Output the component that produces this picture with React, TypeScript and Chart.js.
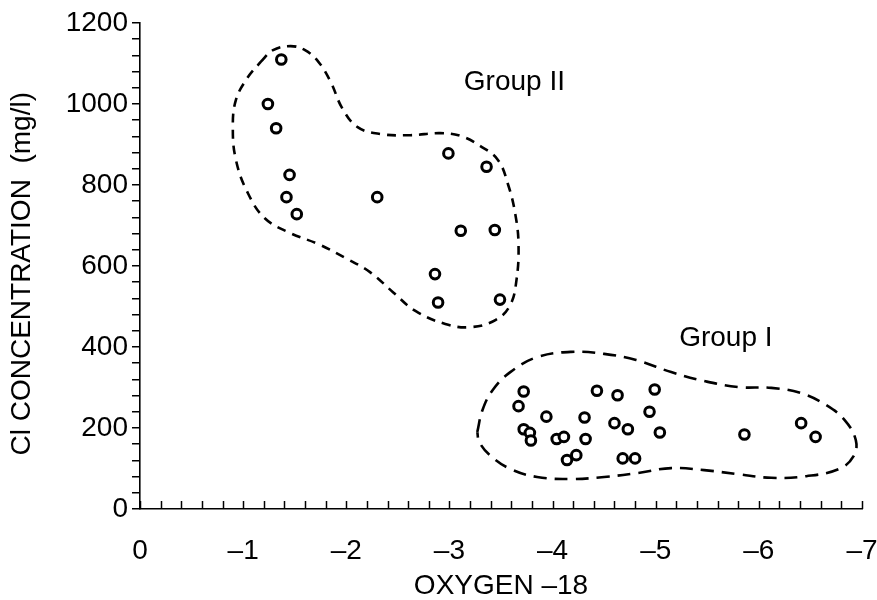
import React, { useEffect, useRef } from "react";
import { Chart, registerables } from "chart.js";

Chart.register(...registerables);

// Group I samples (OXYGEN-18, Cl mg/l)
const group1X = [-3.72, -3.67, -3.94, -3.72, -3.78, -3.79, -4.04, -4.11, -4.14, -4.23, -4.31, -4.32, -4.43, -4.63, -4.60, -4.73, -4.68, -4.80, -4.99, -4.94, -5.04, -5.86, -6.41, -6.55];
const group1Y = [290, 254, 228, 197, 188, 169, 173, 178, 121, 133, 226, 173, 292, 281, 212, 197, 125, 125, 295, 240, 189, 184, 212, 178];

// Group II samples
const group2X = [-1.37, -1.24, -1.32, -1.45, -1.42, -1.52, -2.30, -2.99, -3.36, -3.11, -3.44, -2.86, -2.89, -3.49];
const group2Y = [1110, 1000, 940, 825, 770, 728, 770, 878, 845, 687, 689, 580, 510, 517];

// Dashed envelope around Group II
const env2X = [-1.17, -1.29, -1.46, -1.60, -1.73, -1.85, -1.96, -2.11, -2.33, -2.62, -2.91, -3.11, -3.30, -3.47, -3.57, -3.64, -3.67, -3.65, -3.59, -3.45, -3.20, -2.96, -2.67, -2.45, -2.23, -1.99, -1.73, -1.46, -1.21, -1.04, -0.93, -0.90, -0.93, -1.04, -1.17];
const env2Y = [1104, 1133, 1143, 1133, 1104, 1054, 990, 943, 926, 923, 928, 921, 896, 862, 800, 726, 652, 565, 504, 467, 449, 457, 489, 536, 585, 620, 654, 681, 718, 783, 862, 941, 1010, 1064, 1104];

// Dashed envelope around Group I
const env1X = [-3.27, -3.32, -3.42, -3.59, -3.85, -4.18, -4.50, -4.81, -5.15, -5.47, -5.80, -6.12, -6.41, -6.65, -6.83, -6.94, -6.92, -6.78, -6.46, -6.12, -5.80, -5.47, -5.15, -4.83, -4.50, -4.18, -3.85, -3.59, -3.40, -3.29, -3.27];
const env1Y = [190, 244, 294, 338, 375, 388, 383, 368, 338, 316, 301, 299, 286, 257, 220, 170, 131, 99, 81, 77, 86, 96, 101, 89, 79, 74, 79, 99, 131, 165, 190];

// Group captions
const captionText = ["Group II", "Group I"];
const captionX = [-3.63, -5.68];
const captionY = [1054, 422];

const FONT = '"Liberation Sans", Arial, Helvetica, sans-serif';
const FS = 28;

const toXY = (xs: number[], ys: number[]) => xs.map((x, i) => ({ x, y: ys[i] }));

const overlayPlugin = {
  id: "overlay",
  afterDraw(chart: any) {
    const { ctx, scales } = chart;
    const xs = scales.x;
    const ys = scales.y;
    ctx.save();
    ctx.strokeStyle = "#000";
    ctx.lineWidth = 1.5;
    xs.ticks.forEach((t: any) => {
      const px = Math.round(xs.getPixelForValue(t.value)) + 0.5;
      ctx.beginPath();
      ctx.moveTo(px, ys.bottom);
      ctx.lineTo(px, ys.bottom - 8);
      ctx.stroke();
    });
    ctx.fillStyle = "#000";
    ctx.font = `${FS}px ${FONT}`;
    ctx.textAlign = "center";
    ctx.textBaseline = "middle";
    captionText.forEach((txt, i) => {
      ctx.fillText(txt, xs.getPixelForValue(captionX[i]), ys.getPixelForValue(captionY[i]));
    });
    ctx.restore();
  },
};

export default function App() {
  const ref = useRef<HTMLCanvasElement | null>(null);

  useEffect(() => {
    document.body.style.margin = "0";
    const canvas = ref.current;
    if (!canvas) return;
    const pointStyle = {
      showLine: false,
      pointRadius: 4.8,
      pointHoverRadius: 4.8,
      pointBorderWidth: 3,
      pointBorderColor: "#000",
      pointBackgroundColor: "#fff",
      borderColor: "#000",
      backgroundColor: "#fff",
    };
    const envStyle = {
      showLine: true,
      pointRadius: 0,
      borderColor: "#000",
      borderWidth: 2.6,
      tension: 0.4,
      fill: false,
    };
    const chart = new Chart(canvas, {
      type: "scatter",
      data: {
        datasets: [
          { label: "Group I", data: toXY(group1X, group1Y), order: 0, ...pointStyle },
          { label: "Group II", data: toXY(group2X, group2Y), order: 0, ...pointStyle },
          { label: "Group I envelope", data: toXY(env1X, env1Y), order: 1, borderDash: [13, 8], ...envStyle },
          { label: "Group II envelope", data: toXY(env2X, env2Y), order: 1, borderDash: [9, 7], ...envStyle },
        ],
      } as any,
      options: {
        animation: false,
        responsive: false,
        devicePixelRatio: 1,
        layout: { padding: { left: 0, right: 15, top: 23, bottom: 0 } },
        plugins: {
          legend: { display: false },
          tooltip: { enabled: false },
        },
        scales: {
          x: {
            type: "linear",
            min: -7,
            max: 0,
            reverse: true,
            afterFit: (s: any) => {
              s.height = 91;
              s.paddingLeft = 0;
              s.paddingRight = 0;
            },
            border: { display: true, color: "#000", width: 1.6 },
            grid: { display: true, drawOnChartArea: false, drawTicks: false, color: "#000" },
            ticks: {
              stepSize: 0.2,
              autoSkip: false,
              maxRotation: 0,
              minRotation: 0,
              padding: 25,
              color: "#000",
              font: { family: FONT, size: FS },
              callback: (v: any) => {
                const n = Number(v);
                const r = Math.round(n);
                if (Math.abs(n - r) > 1e-6) return "";
                return r === 0 ? "0" : "\u2013" + Math.abs(r);
              },
            },
            title: {
              display: true,
              text: "OXYGEN \u201318",
              color: "#000",
              font: { family: FONT, size: FS },
              padding: { top: 0, bottom: -3 },
            },
          },
          y: {
            type: "linear",
            min: 0,
            max: 1200,
            afterFit: (s: any) => {
              s.width = 140;
              s.paddingTop = 0;
              s.paddingBottom = 0;
            },
            border: { display: true, color: "#000", width: 1.6 },
            grid: { display: true, drawOnChartArea: false, drawTicks: true, tickLength: 8, color: "#000", lineWidth: 1.5 },
            ticks: {
              stepSize: 40,
              autoSkip: false,
              padding: 4,
              color: "#000",
              font: { family: FONT, size: FS },
              callback: (v: any) => {
                const n = Math.round(Number(v));
                return n % 200 === 0 ? String(n) : "";
              },
            },
            title: {
              display: true,
              text: "Cl CONCENTRATION  (mg/l)\u00a0\u00a0",
              color: "#000",
              font: { family: FONT, size: FS },
              padding: { top: 5, bottom: 0 },
            },
          },
        },
      } as any,
      plugins: [overlayPlugin],
    });
    return () => chart.destroy();
  }, []);

  return (
    <div style={{ width: 877, height: 600, background: "#fff" }}>
      <canvas ref={ref} width={877} height={600} style={{ display: "block" }} />
    </div>
  );
}
